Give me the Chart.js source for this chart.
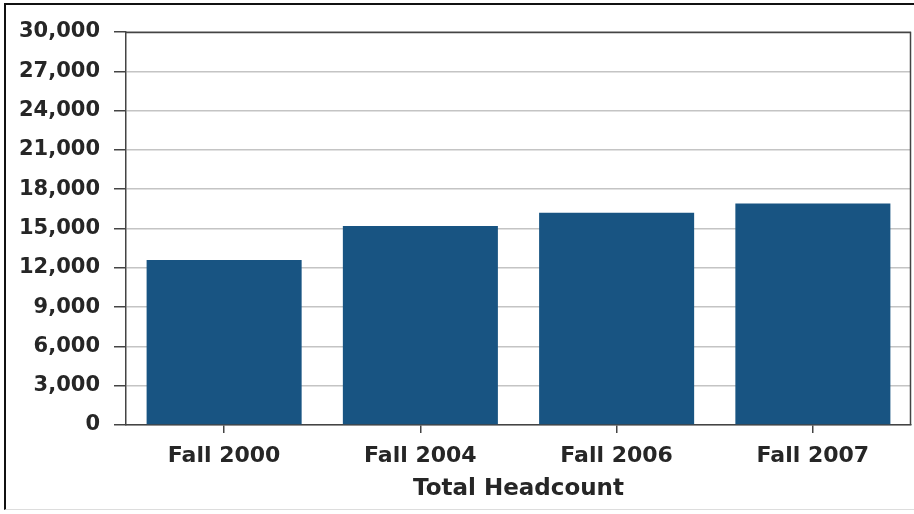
<!DOCTYPE html>
<html>
<head>
<meta charset="utf-8">
<script src="https://cdn.jsdelivr.net/npm/chart.js@4/dist/chart.umd.min.js"></script>
<style>
  html, body { margin: 0; padding: 0; background: #fff; }
  #wrap { position: relative; width: 914px; height: 514px; overflow: hidden; background: #fff; }
  #frame { position: absolute; left: 4px; top: 3px; width: 920px; height: 507px;
           border-top: 2px solid #111; border-left: 2px solid #111; border-bottom: 1px solid #ddd; box-sizing: border-box; }
  canvas { position: absolute; left: 0; top: 0; }
</style>
</head>
<body>
<div id="wrap">
  <div id="frame"></div>
  <canvas id="c" width="914" height="514"></canvas>
</div>
<script>
// Enrollment headcount by fall term
const categories = ['Fall 2000', 'Fall 2004', 'Fall 2006', 'Fall 2007'];
const headcount = [12600, 15200, 16200, 16900];
const yTicks = [0, 3000, 6000, 9000, 12000, 15000, 18000, 21000, 24000, 27000, 30000];
const axisTitle = 'Total Headcount';

const yFont = { family: 'DejaVu Sans, Verdana, sans-serif', size: 21, weight: 'bold' };
const xFont = { family: 'DejaVu Sans, Verdana, sans-serif', size: 22, weight: 'bold' };

// outline on the top and right edges of the plot area
const plotFrame = {
  id: 'plotFrame',
  afterDraw(chart) {
    const { ctx, chartArea: a } = chart;
    ctx.save();
    ctx.strokeStyle = '#444';
    ctx.lineWidth = 1.5;
    ctx.beginPath();
    ctx.moveTo(a.left, a.top + 0.5);
    ctx.lineTo(a.right - 0.5, a.top + 0.5);
    ctx.lineTo(a.right - 0.5, a.bottom);
    ctx.stroke();
    ctx.restore();
  }
};

new Chart(document.getElementById('c'), {
  type: 'bar',
  data: {
    labels: categories,
    datasets: [{
      data: headcount,
      backgroundColor: '#185482',
      borderWidth: 0,
      barPercentage: 0.79,
      categoryPercentage: 1.0
    }]
  },
  options: {
    responsive: false,
    animation: false,
    devicePixelRatio: 1,
    layout: { padding: { top: 32, right: 3, left: 10, bottom: 0 } },
    plugins: { legend: { display: false }, tooltip: { enabled: false } },
    scales: {
      y: {
        min: 0, max: 30000,
        afterBuildTicks(scale) { scale.ticks = yTicks.map(v => ({ value: v })); },
        afterFit(scale) { scale.width = 116; },
        ticks: {
          color: '#262626', font: yFont, padding: 14,
          callback: v => v.toLocaleString('en-US')
        },
        grid: { color: '#c4c4c4', lineWidth: 1.5, tickLength: 12, tickColor: '#444' },
        border: { color: '#444', width: 1.5 }
      },
      x: {
        afterFit(scale) { scale.height = 89; },
        ticks: { color: '#262626', font: xFont, padding: 10 },
        grid: { offset: false, drawOnChartArea: false, tickLength: 8, tickColor: '#444', lineWidth: 1.5 },
        border: { color: '#444', width: 1.5 },
        title: { display: true, text: axisTitle, color: '#262626', font: { family: 'DejaVu Sans, Verdana, sans-serif', size: 23, weight: 'bold' }, padding: { top: 4, bottom: 11 } }
      }
    }
  },
  plugins: [plotFrame]
});
</script>
</body>
</html>
